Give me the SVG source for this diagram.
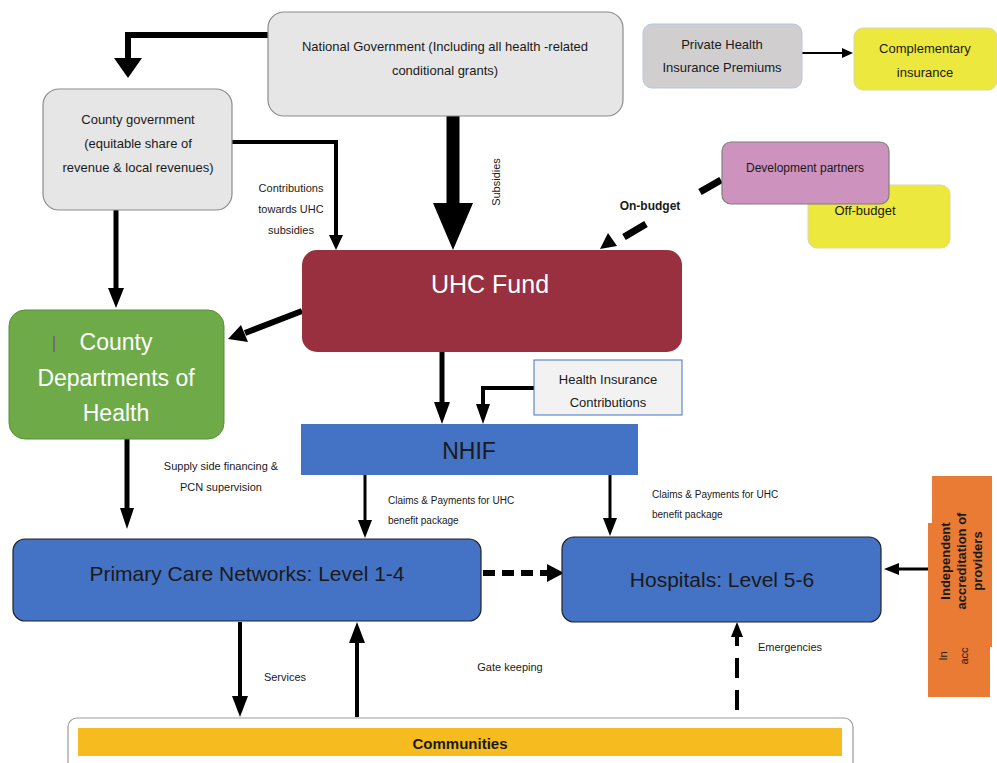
<svg xmlns="http://www.w3.org/2000/svg" width="997" height="763" viewBox="0 0 997 763">
<defs>
<style>
text{font-family:"Liberation Sans Narrow","Liberation Sans",Arial,sans-serif;fill:#1a1a1a;text-anchor:middle}
.s{font-size:13px}
.xs{font-size:11px}
.big{font-size:23px}
.w{fill:#fff}
.ln{fill:none;stroke:#000;stroke-linejoin:miter}
.grey{fill:#e7e6e6;stroke:#8c8c8c;stroke-width:1.2}
.blue{fill:#4472c4}
</style>
</defs>

<g id="connectors">
<polyline class="ln" points="268,35 128,35 128,60" stroke-width="6"/>
<path d="M114,58 L142,58 L128,78z"/>
<polyline class="ln" points="232,142 336,142 336,236" stroke-width="4"/>
<path d="M329,235 L343,235 L336,250z"/>
<line class="ln" x1="453" y1="116" x2="453" y2="205" stroke-width="13"/>
<path d="M433,203 L473,203 L453,250z"/>
<line class="ln" x1="116" y1="210" x2="116" y2="290" stroke-width="5"/>
<path d="M108,288 L124,288 L116,308z"/>
<line class="ln" x1="302" y1="311" x2="245" y2="333" stroke-width="6"/>
<path d="M228,339 L241,325 L248,342z"/>
<line class="ln" x1="442" y1="352" x2="442" y2="404" stroke-width="5"/>
<path d="M434,402 L450,402 L442,424z"/>
<polyline class="ln" points="534,388 483,388 483,406" stroke-width="4"/>
<path d="M476,404 L490,404 L483,424z"/>
<line class="ln" x1="365" y1="475" x2="365" y2="522" stroke-width="3"/>
<path d="M358,520 L372,520 L365,538z"/>
<line class="ln" x1="610" y1="475" x2="610" y2="520" stroke-width="3"/>
<path d="M603,518 L617,518 L610,536z"/>
<line class="ln" x1="127" y1="439" x2="127" y2="510" stroke-width="5"/>
<path d="M120,508 L134,508 L127,529z"/>
<line class="ln" x1="483" y1="573" x2="548" y2="573" stroke-width="6" stroke-dasharray="12,7"/>
<path d="M547,564 L547,582 L564,573z"/>
<line class="ln" x1="928" y1="569" x2="898" y2="569" stroke-width="3"/>
<path d="M899,563 L899,575 L884,569z"/>
<line class="ln" x1="240" y1="622" x2="240" y2="698" stroke-width="4"/>
<path d="M232,696 L248,696 L240,717z"/>
<line class="ln" x1="357" y1="717" x2="357" y2="641" stroke-width="4"/>
<path d="M349,643 L365,643 L357,622z"/>
<line class="ln" x1="737" y1="710" x2="737" y2="636" stroke-width="4" stroke-dasharray="20,12"/>
<path d="M731,637 L743,637 L737,622z"/>
<line class="ln" x1="802" y1="53" x2="845" y2="53" stroke-width="2"/>
<path d="M842,48 L842,58 L853,53z"/>
<line class="ln" x1="721" y1="180" x2="700" y2="192" stroke-width="7"/>
<line class="ln" x1="646" y1="224" x2="624" y2="237" stroke-width="7"/>
<path d="M600,249 L608,233 L617,246z"/>
</g>

<g id="national-government">
<rect class="grey" x="268" y="12" width="355" height="104" rx="16"/>
<text class="s" x="445" y="51">National Government (Including all health -related</text>
<text class="s" x="445" y="75">conditional grants)</text>
</g>

<g id="county-government">
<rect class="grey" x="43" y="89" width="189" height="121" rx="16"/>
<text class="s" x="138" y="124">County government</text>
<text class="s" x="138" y="148">(equitable share of</text>
<text class="s" x="138" y="172">revenue &amp; local revenues)</text>
</g>

<g id="contrib-label">
<text class="xs" x="291" y="192">Contributions</text>
<text class="xs" x="291" y="213">towards UHC</text>
<text class="xs" x="291" y="234">subsidies</text>
</g>
<text class="xs" transform="translate(500,182) rotate(-90)">Subsidies</text>

<g id="private-premiums">
<rect x="643" y="24" width="159" height="64" rx="9" fill="#d0cece" stroke="#b4c7e7" stroke-width="1"/>
<text class="s" x="722" y="49">Private Health</text>
<text class="s" x="722" y="72">Insurance Premiums</text>
</g>

<g id="complementary">
<rect x="854" y="28" width="143" height="62" rx="9" fill="#ede83d" stroke="#d8d8a0" stroke-width="1"/>
<text class="s" x="925" y="53">Complementary</text>
<text class="s" x="925" y="77">insurance</text>
</g>

<g id="off-budget">
<rect x="808" y="185" width="142" height="63" rx="9" fill="#ede83d" stroke="#d8d8b0" stroke-width="1"/>
<text class="s" x="865" y="215">Off-budget</text>
</g>

<g id="development-partners">
<rect x="722" y="142" width="167" height="62" rx="9" fill="#cd92be" stroke="#7f7f7f" stroke-width="1.2"/>
<text class="xs" x="805" y="172" style="font-size:12px">Development partners</text>
</g>
<text class="xs" x="650" y="210" style="font-weight:bold;font-size:12px">On-budget</text>

<g id="uhc-fund">
<rect x="302" y="250" width="380" height="102" rx="15" fill="#98303f"/>
<text class="w" x="490" y="293" style="font-size:25px">UHC Fund</text>
</g>

<g id="county-departments">
<rect x="9" y="310" width="215" height="129" rx="16" fill="#6eaa48" stroke="#5b8f3a" stroke-width="1"/>
<line x1="54" y1="336" x2="54" y2="352" stroke="#7030a0" stroke-width="1"/>
<text class="w big" x="116" y="350">County</text>
<text class="w big" x="116" y="386">Departments of</text>
<text class="w big" x="116" y="421">Health</text>
</g>

<g id="health-insurance-contributions">
<rect x="534" y="360" width="148" height="55" fill="#f2f2f2" stroke="#4472c4" stroke-width="1"/>
<text class="s" x="608" y="384">Health Insurance</text>
<text class="s" x="608" y="407">Contributions</text>
</g>

<g id="nhif">
<rect class="blue" x="301" y="424" width="337" height="51"/>
<text x="469" y="459" style="font-size:23px">NHIF</text>
</g>

<g id="claims-labels">
<text class="xs" x="388" y="504" style="text-anchor:start;font-size:10px">Claims &amp; Payments for UHC</text>
<text class="xs" x="388" y="524" style="text-anchor:start;font-size:10px">benefit package</text>
<text class="xs" x="652" y="498" style="text-anchor:start;font-size:10px">Claims &amp; Payments for UHC</text>
<text class="xs" x="652" y="518" style="text-anchor:start;font-size:10px">benefit package</text>
<text class="xs" x="221" y="470">Supply side financing &amp;</text>
<text class="xs" x="221" y="491">PCN supervision</text>
</g>

<g id="primary-care-networks">
<rect class="blue" x="13" y="539" width="468" height="82" rx="12" stroke="#222" stroke-width="1.2"/>
<text x="247" y="581" style="font-size:21px">Primary Care Networks: Level 1-4</text>
</g>

<g id="hospitals">
<rect class="blue" x="562" y="537" width="319" height="85" rx="12" stroke="#222" stroke-width="1.2"/>
<text x="722" y="587" style="font-size:21px">Hospitals: Level 5-6</text>
</g>

<g id="accreditation">
<rect x="928" y="523" width="62" height="174" fill="#e97b35"/>
<rect x="932" y="476" width="60" height="171" fill="#e97b35"/>
<text transform="translate(950,561) rotate(-90)" style="font-size:13px;font-weight:bold">Independent</text>
<text transform="translate(966,561) rotate(-90)" style="font-size:13px;font-weight:bold">accreditation of</text>
<text transform="translate(982,561) rotate(-90)" style="font-size:13px;font-weight:bold">providers</text>
<text transform="translate(947,656) rotate(-90)" style="font-size:11px">In</text>
<text transform="translate(968,656) rotate(-90)" style="font-size:11px">acc</text>
</g>

<g id="flow-labels">
<text class="xs" x="285" y="681">Services</text>
<text class="xs" x="510" y="671">Gate keeping</text>
<text class="xs" x="790" y="651">Emergencies</text>
</g>

<g id="communities">
<rect x="68" y="718" width="785" height="56" rx="9" fill="#fff" stroke="#9a9a9a" stroke-width="1.2"/>
<rect x="78" y="728" width="764" height="28" fill="#f5bb1f"/>
<text x="460" y="749" style="font-size:15px;font-weight:bold">Communities</text>
</g>
</svg>
